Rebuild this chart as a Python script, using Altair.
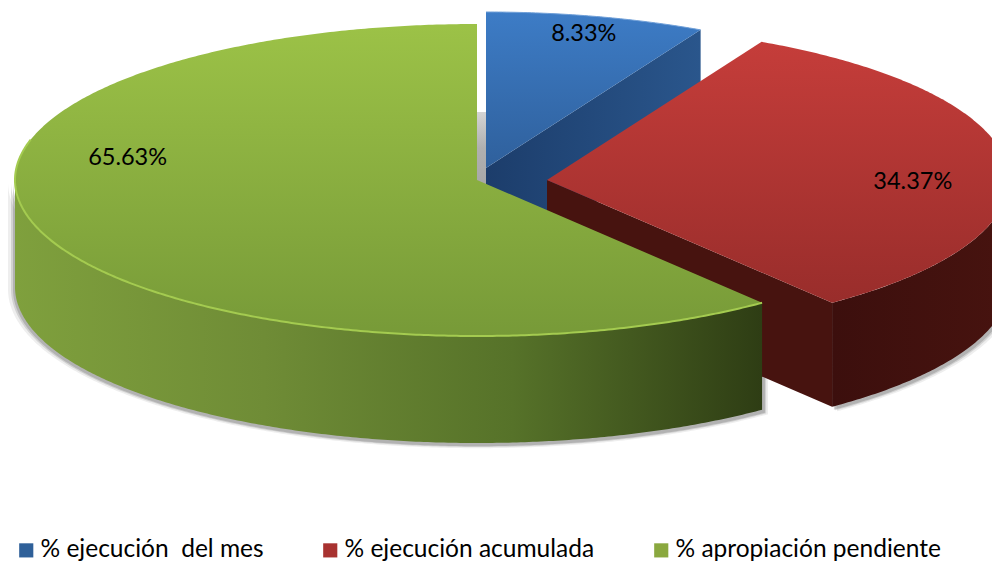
import numpy as np
import pandas as pd
import altair as alt

series = ["% ejecución\u00a0\u00a0del mes", "% ejecución acumulada", "% apropiación pendiente"]
values = [8.33, 34.37, 65.63]
labels = ["8.33%", "34.37%", "65.63%"]
legend_colors = ["#2f6099", "#a83230", "#8aa83f"]

# pie geometry (screen-like units: the scales map them 1:1 to pixels)
RX, RY = 462, 156
centres = [(486, 168), (547, 180), (477, 180)]
depths = [105, 104, 107]
label_r = [0.885, 0.795, 0.80]
label_dy = [0, 13, -63]

fr = np.array(values) / sum(values) * 360
edges = np.concatenate([[0], np.cumsum(fr)])

X = alt.X("x:Q", axis=None, scale=alt.Scale(domain=[8, 992], nice=False, zero=False))
Y = alt.Y("y:Q", axis=None, scale=alt.Scale(domain=[562, 8], nice=False, zero=False))


def arc(c, a0, a1, rx=RX, ry=RY, dz=0):
    t = np.radians(np.linspace(a0, a1, max(int(abs(a1 - a0) * 2), 2)))
    return np.c_[c[0] + rx * np.sin(t), c[1] - ry * np.cos(t) + dz]


def poly(pts, fill, opacity=1.0):
    pts = np.vstack([pts, pts[:1]])
    df = pd.DataFrame({"x": pts[:, 0], "y": pts[:, 1], "o": np.arange(len(pts))})
    return alt.Chart(df).mark_line(
        fill=fill, fillOpacity=opacity, strokeWidth=0, strokeOpacity=0, clip=True, interpolate="linear"
    ).encode(x=X, y=Y, order="o:Q")


def stroke(pts, color, width=2):
    df = pd.DataFrame({"x": pts[:, 0], "y": pts[:, 1], "o": np.arange(len(pts))})
    return alt.Chart(df).mark_line(color=color, strokeWidth=width, clip=True).encode(x=X, y=Y, order="o:Q")


def grad(stops, horizontal=False):
    n = len(stops) - 1
    return {
        "gradient": "linear",
        "x1": 0, "y1": 0,
        "x2": 1 if horizontal else 0, "y2": 0 if horizontal else 1,
        "stops": [{"offset": i / n, "color": s} for i, s in enumerate(stops)],
    }


def wedge(i):
    return np.vstack([[centres[i]], arc(centres[i], edges[i], edges[i + 1])])


def wall(i):
    a0, a1 = max(edges[i], 90), min(edges[i + 1], 270)
    top = arc(centres[i], a0, a1)
    bottom = arc(centres[i], a1, a0, dz=depths[i])
    return np.vstack([top, bottom])


def face(i):
    end = arc(centres[i], edges[i + 1], edges[i + 1])[0]
    c = np.array(centres[i], float)
    d = np.array([0, depths[i]])
    return np.vstack([c, end, end + d, c + d])


layers = []

# soft shadows under the walls
for grow, op in [(8, 0.10), (5, 0.18), (3, 0.25)]:
    for i in (1, 2):
        c = (centres[i][0], centres[i][1] + 2)
        a0, a1 = max(edges[i], 90), min(edges[i + 1], 270)
        if i == 2:
            c = (centres[i][0] + 1, centres[i][1] + 2)
        pts = np.vstack([arc(c, a0, a1, rx=RX + grow, ry=RY + grow * 0.4), arc(c, a1, a0, rx=RX + grow, ry=RY + grow * 0.4, dz=depths[i])])
        layers.append(poly(pts, "#555555", op))

# grey sliver behind the detached slice
b = np.array(centres[0], float)
layers.append(poly(np.array([[b[0] - 9, b[1] - 56], [b[0], b[1] - 56], [b[0], b[1] + 16], [b[0] - 9, b[1] + 16]]), grad(["#d4d4d4", "#b0b0b0", "#a8a8a8"])))

# blue
layers.append(poly(face(0), grad(["#1c3d6b", "#2a568c"], True)))
layers.append(poly(wedge(0), grad(["#3d7cc6", "#2f609c"])))
layers.append(stroke(arc(centres[0], edges[0], edges[1]), "#6f9fd8", 1))
# red
layers.append(poly(face(1), "#47130f"))
layers.append(poly(wall(1), grad(["#3c0f0d", "#47130f"], True)))
layers.append(poly(wedge(1), grad(["#c53d3a", "#992d2b"])))
# green
layers.append(poly(wall(2), grad(["#7fa03d", "#6f8c36", "#567229", "#2e3d14"], True)))
layers.append(poly(wedge(2), grad(["#9cc247", "#779a38"])))
layers.append(stroke(arc(centres[2], edges[2], 285), "#a4cb50", 2))

# percentage labels
for i, lab in enumerate(labels):
    mid = np.radians((edges[i] + edges[i + 1]) / 2)
    lx = centres[i][0] + RX * label_r[i] * np.sin(mid)
    ly = centres[i][1] - RY * label_r[i] * np.cos(mid)
    layers.append(
        alt.Chart(pd.DataFrame({"x": [lx], "y": [ly], "t": [lab]}))
        .mark_text(font="Lato", fontSize=23.5, color="#000000", dy=label_dy[i])
        .encode(x=X, y=Y, text="t:N")
    )

# legend carrier
legend_df = pd.DataFrame({"serie": series, "x": [centres[0][0]] * 3, "y": [centres[0][1]] * 3})
layers.append(
    alt.Chart(legend_df).mark_square(size=0).encode(
        x=X, y=Y,
        color=alt.Color(
            "serie:N",
            sort=series,
            scale=alt.Scale(domain=series, range=legend_colors),
            legend=alt.Legend(
                title=None, orient="none", legendX=6, legendY=530, direction="horizontal", columns=3,
                gridAlign="each", columnPadding=54, symbolType="square", symbolSize=200, symbolStrokeWidth=0,
                symbolOpacity=1, labelFont="Lato", labelFontSize=24.5, labelColor="#000000", labelLimit=400, labelOffset=2,
            ),
        ),
    )
)

chart = alt.layer(*layers).properties(
    width=984, height=554, padding=0, background="#ffffff",
    autosize=alt.AutoSizeParams(type="none"),
).configure_view(stroke=None)
chart.save("out.html", embed_options={"renderer": "svg", "actions": False})
